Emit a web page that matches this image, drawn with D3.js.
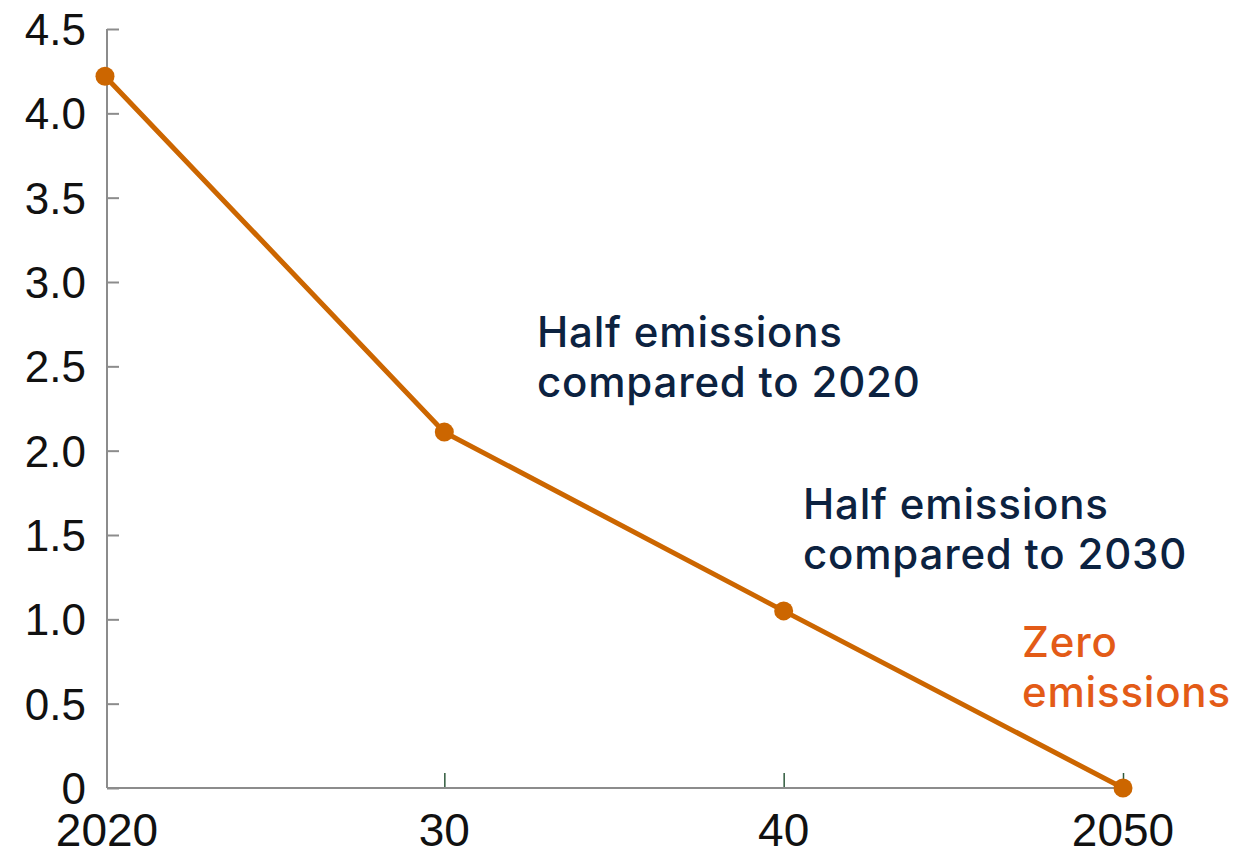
<!DOCTYPE html>
<html>
<head>
<meta charset="utf-8">
<script src="https://cdn.jsdelivr.net/npm/d3@7"></script>
<style>
  body { margin: 0; background: #fff; }
</style>
</head>
<body>
<div id="container"></div>
<script>
// data
const years = [2020, 2030, 2040, 2050];
const values = [4.22, 2.11, 1.05, 0.0];
const yTicks = [0, 0.5, 1.0, 1.5, 2.0, 2.5, 3.0, 3.5, 4.0, 4.5];
const xTickLabels = ['2020', '30', '40', '2050'];
const notes = [
  { lines: ['Half emissions', 'compared to 2020'], color: '#0c2240' },
  { lines: ['Half emissions', 'compared to 2030'], color: '#0c2240' },
  { lines: ['Zero', 'emissions'], color: '#e35b17' }
];

const width = 1238, height = 852;
const svg = d3.select('#container')
  .append('svg')
  .attr('width', width)
  .attr('height', height);

// scales
const x = d3.scaleLinear().domain([2020, 2050]).range([105, 1123]);
const y = d3.scaleLinear().domain([0, 4.5]).range([788, 29]);
const axisX = 107;

// y axis
const yAxis = svg.append('g')
  .attr('transform', `translate(${axisX},0)`)
  .call(d3.axisRight(y).tickValues(yTicks).tickSize(12).tickFormat(''));
yAxis.select('.domain').remove();
yAxis.selectAll('line').attr('stroke', '#8c8c8c').attr('stroke-width', 2);

svg.append('line')
  .attr('x1', axisX).attr('x2', axisX)
  .attr('y1', y(4.5)).attr('y2', y(0))
  .attr('stroke', '#8c8c8c').attr('stroke-width', 2);

svg.selectAll('.ylab')
  .data(yTicks)
  .enter()
  .append('text')
  .attr('x', 86)
  .attr('y', d => y(d))
  .attr('dy', '0.36em')
  .attr('text-anchor', 'end')
  .attr('font-family', 'Liberation Sans, Arial, sans-serif')
  .attr('font-size', 44)
  .attr('fill', '#111')
  .text(d => d === 0 ? '0' : d.toFixed(1));

// x axis
svg.append('line')
  .attr('x1', axisX).attr('x2', x(2050))
  .attr('y1', y(0)).attr('y2', y(0))
  .attr('stroke', '#8c8c8c').attr('stroke-width', 2);

const xAxis = svg.append('g')
  .attr('transform', `translate(0,${y(0) - 1})`)
  .call(d3.axisTop(x).tickValues(years.slice(1)).tickSize(14).tickFormat(''));
xAxis.select('.domain').remove();
xAxis.selectAll('line').attr('stroke', '#2f5a3c').attr('stroke-width', 1.5);

svg.selectAll('.xlab')
  .data(years)
  .enter()
  .append('text')
  .attr('x', (d, i) => i === 0 ? axisX : x(d))
  .attr('y', 846)
  .attr('text-anchor', 'middle')
  .attr('font-family', 'Liberation Sans, Arial, sans-serif')
  .attr('font-size', 46)
  .attr('fill', '#111')
  .text((d, i) => xTickLabels[i]);

// line
const line = d3.line()
  .x((d, i) => x(years[i]))
  .y(d => y(d));

svg.append('path')
  .datum(values)
  .attr('fill', 'none')
  .attr('stroke', '#cc6600')
  .attr('stroke-width', 5)
  .attr('d', line);

svg.selectAll('.dot')
  .data(values)
  .enter()
  .append('circle')
  .attr('cx', (d, i) => x(years[i]))
  .attr('cy', d => y(d))
  .attr('r', 9.5)
  .attr('fill', '#cc6600');

// annotations
const noteLeft = [537, 803, 1022];
const noteTop = [347, 519, 657];
const noteText = svg.selectAll('.note')
  .data(notes)
  .enter()
  .append('text')
  .attr('font-family', 'Inter, sans-serif')
  .attr('font-size', 42)
  .attr('letter-spacing', 0.8)
  .attr('font-weight', 500)
  .attr('fill', d => d.color);

noteText.selectAll('tspan')
  .data((d, i) => d.lines.map((t, j) => ({ t, j, i })))
  .enter()
  .append('tspan')
  .attr('x', d => noteLeft[d.i])
  .attr('y', d => noteTop[d.i] + d.j * 50)
  .text(d => d.t);
</script>
</body>
</html>
